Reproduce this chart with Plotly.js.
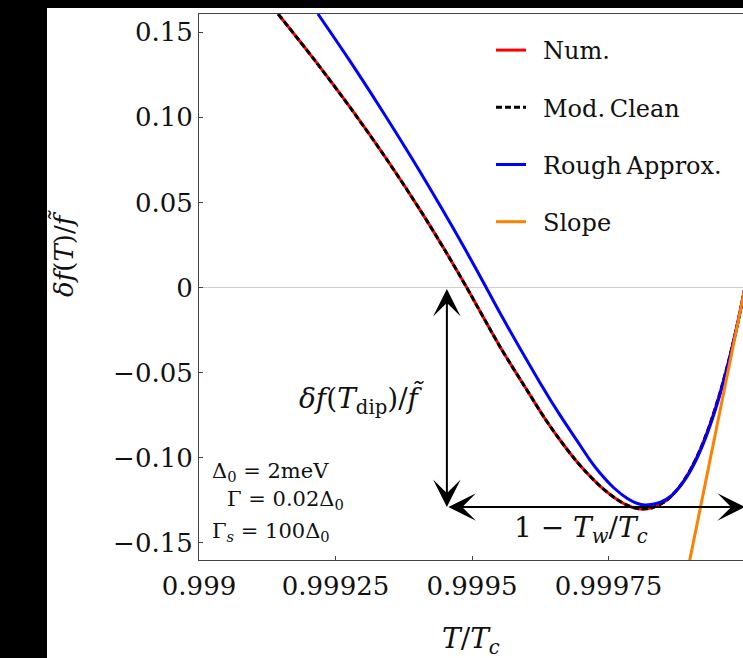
<!DOCTYPE html>
<html><head><meta charset="utf-8">
<script src="https://cdn.plot.ly/plotly-3.0.1.min.js"></script>
<style>html,body{margin:0;padding:0;overflow:hidden;background:#fff}#chart{width:746px;height:658px}</style>
</head><body><div id="chart"></div>
<script>
// ---- data ----
const tNum   = [0.999145, 0.9992115, 0.9992802, 0.9993447, 0.9994051, 0.9994502, 0.9994903, 0.9995513, 0.9996044, 0.9996337, 0.9996612, 0.9996868, 0.9997106, 0.9997381, 0.9997656, 0.9997857, 0.9998077, 0.9998297, 0.9998571, 0.9998810, 0.9998993, 0.9999176, 0.9999359, 0.9999542, 0.9999725, 0.9999872, 1.0];
const fNum   = [0.1607, 0.1337, 0.1043, 0.0749, 0.0455, 0.0220, 0.0, -0.0348, -0.0622, -0.0771, -0.0896, -0.1003, -0.1090, -0.1177, -0.1245, -0.1281, -0.1301, -0.1294, -0.1249, -0.1167, -0.1075, -0.0955, -0.0803, -0.0619, -0.0401, -0.0200, 0.0];
const tClean = [0.999145, 0.9992115, 0.9992802, 0.9993447, 0.9994051, 0.9994502, 0.9994903, 0.9995513, 0.9996044, 0.9996337, 0.9996612, 0.9996868, 0.9997106, 0.9997381, 0.9997656, 0.9997857, 0.9998077, 0.9998297, 0.9998571, 0.9998810, 0.9998993, 0.9999176, 0.9999359, 0.9999542, 0.9999725, 0.9999872, 1.0];
const fClean = [0.1607, 0.1337, 0.1043, 0.0749, 0.0455, 0.0220, 0.0, -0.0348, -0.0622, -0.0771, -0.0896, -0.1003, -0.1090, -0.1177, -0.1245, -0.1281, -0.1301, -0.1294, -0.1249, -0.1167, -0.1075, -0.0955, -0.0803, -0.0619, -0.0401, -0.0200, 0.0];
const tRough = [0.9992179, 0.9992751, 0.9993346, 0.9993918, 0.9994463, 0.9994883, 0.9995260, 0.9995513, 0.9996245, 0.9996612, 0.9996923, 0.9997161, 0.9997344, 0.9997601, 0.9997839, 0.9998004, 0.9998168, 0.9998443, 0.9998663, 0.9998901, 0.9999084, 0.9999267, 0.9999451, 0.9999634, 0.9999817, 1.0];
const fRough = [0.1607, 0.1337, 0.1043, 0.0749, 0.0455, 0.0220, 0.0, -0.0150, -0.0559, -0.0750, -0.0900, -0.1014, -0.1090, -0.1178, -0.1238, -0.1266, -0.1278, -0.1263, -0.1220, -0.1129, -0.1027, -0.0893, -0.0725, -0.0522, -0.0280, 0.0];
const tSlope = [0.99988, 1.0];
const fSlope = [-0.19, 0.0];
const seriesNames = ['\u2002Num.', '\u2002Mod.\u2009Clean', '\u2002Rough\u2009Approx.', '\u2002Slope'];
const xTickVals = [0.999, 0.99925, 0.9995, 0.99975, 1];
const xTickText = ['0.999', '0.99925', '0.9995', '0.99975', '1'];
const yTickVals = [0.15, 0.10, 0.05, 0, -0.05, -0.10, -0.15];
const yTickText = ['0.15', '0.10', '0.05', '0', '\u22120.05', '\u22120.10', '\u22120.15'];
const Tw = 0.999454;      // start of the width arrow
const Tend = 1.0;         // T/Tc = 1
const dipValue = -0.129;  // δf(T_dip)/f~
const paramLines = ['\u0394<sub>0</sub> = 2meV', '\u0393 = 0.02\u0394<sub>0</sub>', '\u0393<sub><i>s</i></sub> = 100\u0394<sub>0</sub>'];

const FONT = 'DejaVu Serif';
const px = v => (v - 199) / 546;       // pixel x -> paper
const py = v => (560 - v) / 546;       // pixel y -> paper

const traces = [
  {x: tNum, y: fNum, name: seriesNames[0], mode: 'lines', legendgroup: 'a',
   line: {color: '#ff0000', width: 3, shape: 'spline', smoothing: 0.8}},
  {x: tClean, y: fClean, name: seriesNames[1], mode: 'lines', legendgroup: 'b',
   line: {color: '#000000', width: 3, dash: '6px,3px', shape: 'spline', smoothing: 0.8}},
  {x: tRough, y: fRough, name: seriesNames[2], mode: 'lines', legendgroup: 'c',
   line: {color: '#0000ff', width: 3, shape: 'spline', smoothing: 0.8}},
  {x: tSlope, y: fSlope, name: seriesNames[3], mode: 'lines', legendgroup: 'd',
   line: {color: '#ff8000', width: 3}}
];

const arrowStyle = {xref: 'x', yref: 'y', axref: 'x', ayref: 'y', showarrow: true, text: '',
  arrowhead: 3, startarrowhead: 3, arrowside: 'end+start', arrowsize: 2.3, startarrowsize: 2.3,
  arrowwidth: 2, arrowcolor: '#000'};

function label(x, y, text, size, extra) {
  return Object.assign({xref: 'paper', yref: 'paper', x: px(x), y: py(y), xanchor: 'center', yanchor: 'middle',
    showarrow: false, text: text, font: {family: FONT, size: size, color: '#111'}}, extra || {});
}

const annotations = [
  Object.assign({x: Tw, y: dipValue, ax: Tw, ay: 0}, arrowStyle),
  Object.assign({x: Tend, y: dipValue, ax: Tw, ay: dipValue}, arrowStyle),
  label(63, 253, '<i>\u03b4f</i>(<i>T</i>)/<i>f\u0303</i>', 26, {textangle: -90}),
  label(471, 640, '<i>T</i>/<i>T</i><sub><i>c</i></sub>', 28),
  label(362, 400, '<i>\u03b4f</i>(<i>T</i><sub>dip</sub>)/<i>f\u0303</i>', 28),
  label(581, 529, '1 \u2212 <i>T</i><sub><i>w</i></sub>/<i>T</i><sub><i>c</i></sub>', 28),
  label(210, 472, paramLines[0], 21, {xanchor: 'left'}),
  label(225, 500, paramLines[1], 21, {xanchor: 'left'}),
  label(210, 532, paramLines[2], 21, {xanchor: 'left'})
];

const shapes = [
  {type: 'rect', xref: 'paper', yref: 'paper', x0: -0.4, x1: px(47), y0: -0.3, y1: 1.1,
   fillcolor: '#000', line: {width: 0}, layer: 'below'},
  {type: 'rect', xref: 'paper', yref: 'paper', x0: -0.4, x1: 1.1, y0: py(8), y1: 1.1,
   fillcolor: '#000', line: {width: 0}, layer: 'below'}
];

const layout = {
  width: 746, height: 658,
  margin: {l: 199, r: 1, t: 14, b: 98},
  paper_bgcolor: '#fff', plot_bgcolor: '#fff',
  showlegend: true,
  legend: {x: px(491), xanchor: 'left', y: py(28), yanchor: 'top', traceorder: 'grouped',
    tracegroupgap: 23, itemwidth: 30, bgcolor: 'rgba(0,0,0,0)', borderwidth: 0,
    font: {family: FONT, size: 24, color: '#111'}},
  xaxis: {range: [0.999, 1.0], tickmode: 'array', tickvals: xTickVals, ticktext: xTickText,
    ticks: 'inside', ticklen: 4, tickcolor: '#444', showline: true, mirror: true,
    linecolor: '#444', linewidth: 1, showgrid: false, zeroline: false, ticklabelstandoff: 3,
    tickfont: {family: FONT, size: 26, color: '#111'}},
  yaxis: {range: [-0.1601, 0.1607], tickmode: 'array', tickvals: yTickVals, ticktext: yTickText,
    ticks: 'inside', ticklen: 4, tickcolor: '#444', showline: true, mirror: true,
    linecolor: '#444', linewidth: 1, showgrid: false, zeroline: true,
    zerolinecolor: '#d0d0d0', zerolinewidth: 1,
    tickfont: {family: FONT, size: 26, color: '#111'}},
  shapes: shapes,
  annotations: annotations
};

Plotly.newPlot('chart', traces, layout, {displayModeBar: false, staticPlot: true});
</script>
</body></html>
